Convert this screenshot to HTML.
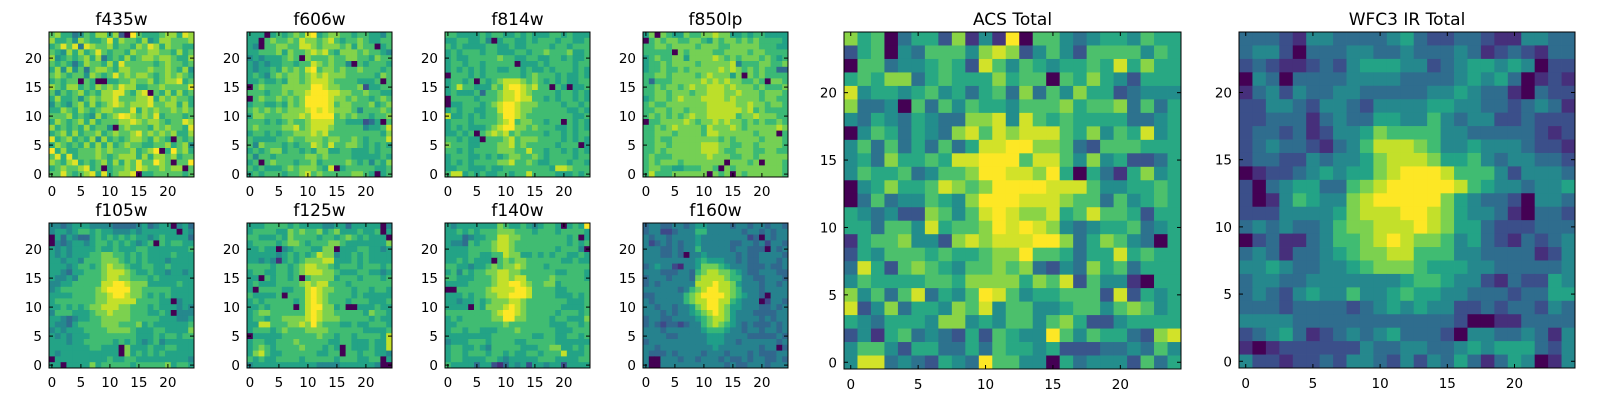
<!DOCTYPE html>
<html><head><meta charset="utf-8"><style>
html,body{margin:0;padding:0;background:#fff;}
svg text{font-family:"DejaVu Sans","Liberation Sans",sans-serif;fill:#000;}
</style></head>
<body>
<svg id="fig" width="1600" height="400" viewBox="0 0 1600 400" xmlns="http://www.w3.org/2000/svg"></svg>
<script>
// Heatmap data: each string is one row, top row (y=24) first; digits 0-9 are colour levels.
const f435w = ["6755346577572096555677587","7556476556857665745776667","5686838766756657687576655","6547575686566576677665756","7456567573565756776776557","6565357665758666665676656","5747463677657766676676574","6765664765686767765676765","5656606500556676675677856","7657756576768775566766668","6465675657788657806575756","5755646767786667785767665","4654675756787677786677575","5576576567766685767667676","6667565475679876768566656","5765675756667787677656687","7565657566406766657676658","5675756675676678676767557","8567565747565677657650656","5765657575756766556675674","9575566676766675679059675","6858566676567775757767566","7657856567575768669760669","5676678560566768766767706","6686567858567780556666656"];
const f606w = ["5550565676895677665665546","5506766768776786566765566","5406677668876777675766056","5566675766787865777676654","4545556760766676677665766","5454556656687676640656665","5455657676896776766766656","5654676776787877766666576","5565565776788876666555606","0676667777799877666725566","6665667677899988776676655","0676676767999987767665676","5665565767999986776667567","6767676777898987776466676","5776667778799996767665667","6665656766788886655523506","6766667786788876666645568","5665656677787866666666657","6555566766777677667656668","6476665656687686677656565","5656775665657755665556566","6466566666776766665555565","5606766656675666676564657","6565556767776580566666556","5656665667867666667765056"];
const f814w = ["6655556566556565556656555","5566556405665565666566556","6565555665565566665665666","5656665665556656676667556","5655666667665566556656556","5665665666660555656666566","5656565665566565565666565","0666565666666567666565565","5665606567888767656565566","5686655576899878660650556","5655563667889876666566565","0666656667889886656566565","0556665678998777666656656","5656655668998776666665565","8556565667998766666666556","5666566667896776656606565","5656555678997767666556565","5565606787867666656656566","6656550666786777666656565","7666556667786766666566605","6656566667776686656656565","5666556565677667656666566","5656566667786676556665665","5566555655666666665887666","6885656556656686666555656"];
const f850lp = ["5707655766778775565665555","0676776677657677676766665","6677677776777667777766655","6666607677776677776776666","5676677577778767677767656","5667677776777778466677667","5667667677777878767676633","6677677776787775707676666","6366677777878787766760776","6676776787788878777676667","6677677767788877877767776","5677678777888878777767766","6766777777788888778776776","6677677677788888878676666","6767676787788888677877766","0667777876778787767676676","6676787777687778767777787","6677767777688777777677706","6676677777777676777767776","6677677777888776677677776","6676777777888766777667766","6766677777787776677677777","6767776777777707776707776","6776655666776076777777776","6866677777707670767777776"];
const f105w = ["4434555444433334534550453","4554566565544454555555054","0535433565656565545655553","0434554566565654560656655","5454555565565556655555556","5454555667766565655556555","5545546667776565655545555","5554566567877655665565555","5543556667888765565545545","5445466667887766656555555","4455666668899877755555655","4566666678999977666665555","5555666677899877656565555","5666666677888886666550455","5565656778887766656555454","4666555677877766655650444","5543455667777766666555445","5443566667776667565555556","4545556666777765556655557","5454555666666665556566566","5554556666656565456455555","5555555665550755565566555","5455555555550756565655555","0555555555655665555555554","5505555756666656666675665"];
const f125w = ["5556666565555445535555504","5666655767667567555655605","6655565766665665676565550","5666656776566677655555557","5565504566655770555665545","5555545656568774556565555","5545415656777885556565555","6666566567887765666566656","5665566567888776555665545","5506566560677775666566656","5655566667878866656666666","5066665566898776665665665","6555560666898766665655555","5656666656898766656665556","5565666606899775600555655","5677666666898776666657665","5665667777898777666665655","5588666778797666556556665","5666567666777766666655556","0555556666667665665666658","5665566676666655665556558","5676566667666565065556558","5786556666665566066566554","6565566665666665666556605","4555555555554444555555400"];
const f140w = ["5455555557655654566505659","5565656667776665666566665","5553455668877666666665605","5443656678876666666665656","5555666678876666666566640","5555665566877556565665565","5565655506767766666655655","6655455676778766656666666","5646566778877666666556665","6655566678878866667666665","5555666678899876677566666","0066666788889986666556666","5556566778899986666555656","5545565677788766666665556","5555065777898766666655556","6666666678998766666566656","5656666677997766665665557","5566666666766666665556656","5665665556667666666555666","5555555566666665566556656","4555666566665566666555555","5665565466666555667755656","5665666566565566566685556","5665555665455555666555566","6555535521354525545525555"];
const f160w = ["3443344345544443443443443","3442234446644444434434344","4344344445444444442304344","4234343445444443344342443","4443343446444443443330434","4443343044544444343344443","4444444445655544343344434","3454421445777654443334334","4443334436788776543344433","3444344437888876644334443","3434444448889887544434434","4444443467899887644434444","3344444678999987654430444","4344444678899886544402443","4434434457899875544433434","4443434456789875444333344","3443344445678875444434344","3432332344678765434333434","4443444444566654434434434","4444334444455544443333343","3444444444455544344444434","4434444444445444444434403","4333434444344434443433344","4004443443444343343443343","4004444444444434334443444"];
const acsTotal = ["7560355271419066434554655","2560436664787246426666465","0663445652864654556585755","5657735655575660657542555","8455456453563736475523444","7334063646554666756673635","4354354337784865655553345","0465354378687888657465845","4636353635889977632666555","4537556588999688647452235","4655634667998879505315745","0457556876799998886445565","0363446547999888766364565","5434227646898778568665255","5536648566798987434556345","1566744278788899735764305","2546665655677966535585655","3852676546676732437563555","4655556657777576826441055","7463683546986455666282545","8247355476846644566467645","5435554774546646752245555","2415634325265449646553278","4664255335365545222334364","4883432543966440534442635"];
const wfc3Total = ["3332144333345322332114433","3442033344334333431232133","2321123245554423455454022","0430333344443333454530121","1342433443333344543310322","2244324432444455443323431","2233313433554464344223222","2332312445766664433333212","2343321346888764454443221","2332243445788875564344332","0122345455789998666424443","2034553367899999865443445","2014654478999997543320443","2224444578889987544310332","3434334677888987553222333","0231134667898776453213234","3431334567788666443333124","4454334456777655544333334","3443344444445665442132254","3432454464456554433323355","3332333323454544223233243","4444333333333333200113333","2345312343453332044334314","1012222224334433454555324","4221223244324243531354014"];
const tickVals = [0, 5, 10, 15, 20];
const panelTitles = ["f435w","f606w","f814w","f850lp","f105w","f125w","f140w","f160w","ACS Total","WFC3 IR Total"];
</script>
<script>
const svg = document.getElementById('fig');
const NS = 'http://www.w3.org/2000/svg';
const stops = [[68,1,84],[72,40,120],[62,73,137],[49,104,142],[38,130,142],[31,158,137],[53,183,121],[110,206,88],[181,222,43],[253,231,37]];
function color(v){
  v = Math.max(0, Math.min(9, v));
  const i = Math.min(8, Math.floor(v)), f = v - i;
  const a = stops[i], b = stops[i+1];
  return 'rgb(' + [0,1,2].map(k => Math.round(a[k] + (b[k]-a[k]) * f)).join(',') + ')';
}
function mk(tag, attrs){const e=document.createElementNS(NS,tag);for(const k in attrs)e.setAttribute(k,attrs[k]);svg.appendChild(e);return e;}

// boost: colour-scale offset per panel (display normalisation, not data)
const panels = [
  {d:f435w,x:49,y:32,s:145,boost:0.6},{d:f606w,x:247,y:32,s:145,boost:0.3},{d:f814w,x:445,y:32,s:145,boost:0.2},{d:f850lp,x:643,y:32,s:145,boost:0.1},
  {d:f105w,x:49,y:223,s:145,boost:0.2},{d:f125w,x:247,y:223,s:145,boost:0.2},{d:f140w,x:445,y:223,s:145,boost:0.2},{d:f160w,x:643,y:223,s:145,boost:0},
  {d:acsTotal,x:844,y:32,s:337,boost:0.4},{d:wfc3Total,x:1239,y:32,s:336,boost:0.2}
];

panels.forEach((p, pi) => {
  const n = p.d.length;
  const cell = p.s / n;
  const xs = v => p.x + (v + 0.5) * cell;
  const ys = v => p.y + p.s - (v + 0.5) * cell;
  const g = document.createElementNS(NS,'g');
  
  
  svg.appendChild(g);
  for (let r = 0; r < n; r++) {
    const row = p.d[r];
    const yv = n - 1 - r;
    for (let c = 0; c < row.length; c++) {
      const val = +row[c];
      const rect = document.createElementNS(NS,'rect');
      rect.setAttribute('x', (xs(c) - cell/2).toFixed(2));
      rect.setAttribute('y', (ys(yv) - cell/2).toFixed(2));
      rect.setAttribute('width', (cell + 0.4).toFixed(2));
      rect.setAttribute('height', (cell + 0.4).toFixed(2));
      rect.setAttribute('fill', color(val === 0 ? 0 : val + p.boost));
      
      
      g.appendChild(rect);
    }
  }
  const frame = mk('rect',{x:p.x,y:p.y,width:p.s,height:p.s,fill:'none',stroke:'#000','stroke-width':1});
  
  
  const big = p.s > 200;
  const fs = 13.5;
  tickVals.forEach(v => {
    const tx = xs(v), ty = ys(v);
    mk('line',{x1:tx,y1:p.y+p.s,x2:tx,y2:p.y+p.s-4,stroke:'#000','stroke-width':1});
    mk('line',{x1:tx,y1:p.y,x2:tx,y2:p.y+4,stroke:'#000','stroke-width':1});
    mk('line',{x1:p.x,y1:ty,x2:p.x+4,y2:ty,stroke:'#000','stroke-width':1});
    mk('line',{x1:p.x+p.s,y1:ty,x2:p.x+p.s-4,y2:ty,stroke:'#000','stroke-width':1});
    const xl = mk('text',{x:tx,y:p.y+p.s+(big?20:19),'font-size':fs,'text-anchor':'middle'});
    xl.textContent = v;
    
    
    const yl = mk('text',{x:p.x-7,y:ty+5,'font-size':fs,'text-anchor':'end'});
    yl.textContent = v;
    
    
  });
  const t = mk('text',{x:p.x+p.s/2,y:p.y-7,'font-size':17,'text-anchor':'middle'});
  t.textContent = panelTitles[pi];
  
  
});
</script>
</body></html>
